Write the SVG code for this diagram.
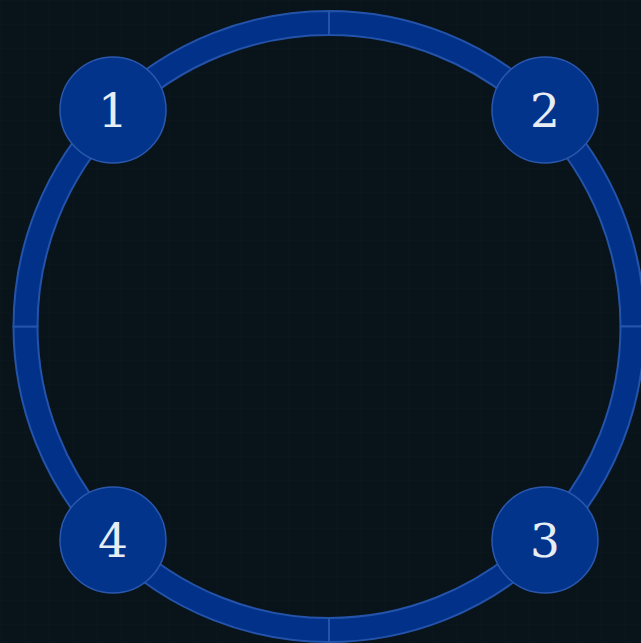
<svg xmlns="http://www.w3.org/2000/svg" width="641" height="643" viewBox="0 0 641 643">
<style>
.bg{fill:#09131a}
.arc{fill:#02318a;stroke:#2453aa;stroke-width:2}
.node{fill:#02348c;stroke:#2a58ad;stroke-width:1.5}
.lbl{font-family:"DejaVu Serif","Liberation Serif",serif;font-size:47px;fill:#e6edf5;text-anchor:middle}
</style>
<defs>
<pattern id="grid" width="24" height="24" patternUnits="userSpaceOnUse">
<path d="M24 0H0V24" fill="none" stroke="#12303a" stroke-width="1" opacity="0.1"/>
</pattern>
</defs>
<rect class="bg" width="641" height="643"/>
<rect width="641" height="643" fill="url(#grid)"/>
<g id="connectors">
<path class="arc" d="M329 11 A315.5 315.5 0 0 1 644.5 326.5 L620.5 326.5 A291.5 291.5 0 0 0 329 35 Z"/>
<path class="arc" d="M644.5 326.5 A315.5 315.5 0 0 1 329 642 L329 618 A291.5 291.5 0 0 0 620.5 326.5 Z"/>
<path class="arc" d="M329 642 A315.5 315.5 0 0 1 13.5 326.5 L37.5 326.5 A291.5 291.5 0 0 0 329 618 Z"/>
<path class="arc" d="M13.5 326.5 A315.5 315.5 0 0 1 329 11 L329 35 A291.5 291.5 0 0 0 37.5 326.5 Z"/>
</g>
<g id="node1"><circle class="node" cx="113" cy="110" r="53"/><text class="lbl" x="113" y="127">1</text></g>
<g id="node2"><circle class="node" cx="545" cy="110" r="53"/><text class="lbl" x="545" y="127">2</text></g>
<g id="node3"><circle class="node" cx="545" cy="540" r="53"/><text class="lbl" x="545" y="557">3</text></g>
<g id="node4"><circle class="node" cx="113" cy="540" r="53"/><text class="lbl" x="113" y="557">4</text></g>
</svg>
